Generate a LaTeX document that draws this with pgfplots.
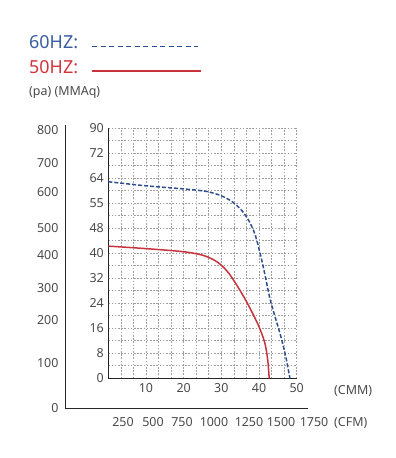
\documentclass[border=0pt]{standalone}
\usepackage{pgfplots}
\pgfplotsset{compat=1.18}
\usepackage{fontspec}
\setmainfont{Noto Sans}
\definecolor{txt}{HTML}{4A4A4A}
\definecolor{blueC}{HTML}{2E4E8F}
\definecolor{redC}{HTML}{C8323C}
\definecolor{blueT}{HTML}{3A5CA0}
\definecolor{redT}{HTML}{D0343C}
\begin{document}
\begin{tikzpicture}
\path[use as bounding box] (0,0) rectangle (396bp,458bp);
% legend
\node[anchor=west,inner sep=0pt,text=blueT,font=\fontsize{18}{20}\selectfont] at (29bp,416bp) {60HZ:};
\draw[blueC,line width=1bp,dash pattern=on 5bp off 3.5bp] (92bp,411bp) -- (198bp,411bp);
\node[anchor=west,inner sep=0pt,text=redT,font=\fontsize{18}{20}\selectfont] at (29bp,391bp) {50HZ:};
\draw[redC,line width=1.1bp] (92bp,387bp) -- (201bp,387bp);
\node[anchor=west,inner sep=0pt,text=txt,font=\fontsize{12.5}{14}\selectfont] at (29bp,365bp) {(pa) (MMAq)};
% outer axis
\begin{axis}[
  scale only axis, width=260bp, height=283bp,
  at={(65bp,50bp)}, anchor=south west,
  xmin=0, xmax=260, ymin=0, ymax=283,
  axis line style={draw=none},
  major tick length=0pt,
  clip=false,
  ytick={0,45,88,120,153,180,216,245,278},
  yticklabels={0,100,200,300,400,500,600,700,800},
  xtick={58,88,117,149,184,216,249},
  xticklabels={250,500,750,1000,1250,1500,1750},
  ticklabel style={text=txt,font=\fontsize{12.5}{14}\selectfont},
  yticklabel style={xshift=-3bp},
  xticklabel style={yshift=-6bp},
]
\addplot[draw=none] coordinates {(0,0)};
\draw[line width=1bp,black!85] (axis cs:0,283) -- (axis cs:0,0) -- (axis cs:243,0);
\end{axis}
\node[anchor=west,inner sep=0pt,text=txt,font=\fontsize{12.5}{14}\selectfont] at (334bp,35bp) {(CFM)};
\node[anchor=west,inner sep=0pt,text=txt,font=\fontsize{12.5}{14}\selectfont] at (334bp,67bp) {(CMM)};
% inner axis
\begin{axis}[
  scale only axis, width=188.4bp, height=250bp,
  at={(108.3bp,79.7bp)}, anchor=south west,
  xmin=0, xmax=50, ymin=0, ymax=80,
  axis x line*=bottom, axis y line*=left,
  axis line style={-,line width=1bp,black!85},
  major tick length=0pt, minor tick length=0pt,
  xtick={0,10,...,50}, xticklabels={,10,20,30,40,50},
  minor x tick num=2,
  ytick={0,8,...,80}, yticklabels={0,8,16,24,32,40,48,55,64,72,90},
  minor y tick num=1,
  grid=both,
  major grid style={gray!75,dash pattern=on 1.6bp off 1.6bp,line width=0.7bp},
  minor grid style={gray!75,dash pattern=on 1.6bp off 1.6bp,line width=0.7bp},
  ticklabel style={text=txt,font=\fontsize{12.5}{14}\selectfont},
  yticklabel style={xshift=-1bp},
  xticklabel style={yshift=-2bp},
]
\addplot[blueC,line width=1.5bp,dash pattern=on 4bp off 2bp,smooth,tension=0.5] coordinates {
(0,62.9)(10,61.6)(20,60.6)(26,59.8)(30,58.4)(33,56.4)(35.5,53.6)(37.5,50)(39,45.8)(40.3,40)(41.6,33)(42.9,25.5)(44.3,19.5)(45.6,14.2)(47,7.5)(48.2,0)};
\addplot[redC,line width=1.5bp,smooth,tension=0.5] coordinates {
(0,42.3)(10,41.5)(20,40.5)(25,39.4)(28,37.9)(30,36.2)(32,33.6)(34,30)(36,26)(38,21.5)(40,16.5)(41.5,11.5)(42.3,6)(42.7,0)};
\end{axis}
\end{tikzpicture}
\end{document}
